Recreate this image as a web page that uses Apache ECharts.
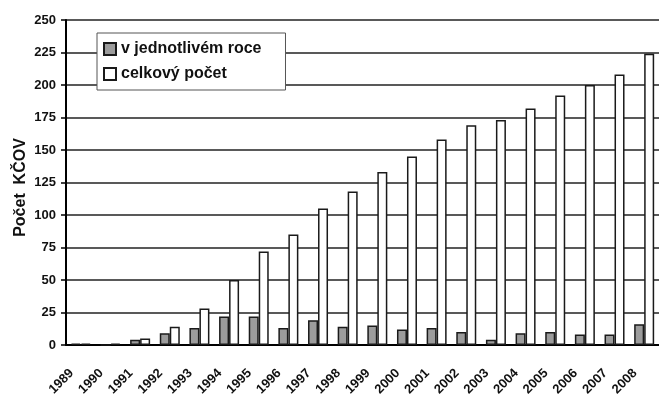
<!DOCTYPE html>
<html><head><meta charset="utf-8">
<script src="https://cdn.jsdelivr.net/npm/echarts@6/dist/echarts.min.js"></script>
<style>html,body{margin:0;padding:0;background:#fff}#c{width:659px;height:407px}</style>
</head><body><div id="c"></div>
<script>
const years = ['1989','1990','1991','1992','1993','1994','1995','1996','1997','1998','1999','2000','2001','2002','2003','2004','2005','2006','2007','2008'];
const perYear = [1,0,4,9,13,22,22,13,19,14,15,12,13,10,4,9,10,8,8,16];
const total = [1,1,5,14,28,50,72,85,105,118,133,145,158,169,173,182,192,200,208,224];
const seriesNames = ['v jednotlivém roce','celkový počet'];
const yAxisName = 'Počet  KČOV';

const chart = echarts.init(document.getElementById('c'), null, {renderer:'canvas'});
const font = 'Liberation Sans, Arial, sans-serif';
chart.setOption({
  animation:false,
  backgroundColor:'#fff',
  grid:{left:66, right:-5, top:20, bottom:62, containLabel:false},
  legend:{
    orient:'vertical', left:97, top:33, icon:'rect',
    backgroundColor:'#fff', borderColor:'#555', borderWidth:1,
    padding:[8,24,8,6], itemGap:9, itemWidth:12, itemHeight:12,
    textStyle:{fontFamily:font, fontWeight:'bold', fontSize:16, color:'#111'},
    data:seriesNames
  },
  xAxis:{
    type:'category', data:years,
    axisLine:{lineStyle:{color:'#000', width:2}},
    axisTick:{show:false},
    axisLabel:{rotate:45, margin:17, padding:[0,13,0,0], fontFamily:font, fontWeight:'bold', fontSize:13, color:'#111', interval:0}
  },
  yAxis:{
    type:'value', min:0, max:250, interval:25,
    name:yAxisName, nameLocation:'middle', nameGap:37, nameRotate:90, nameMoveOverlap:false,
    nameTextStyle:{fontFamily:font, fontWeight:'bold', fontSize:16, color:'#111', padding:[0,10,0,0]},
    axisLine:{show:true, lineStyle:{color:'#000', width:2}},
    axisTick:{show:true, length:5, lineStyle:{color:'#000', width:1.5}},
    axisLabel:{margin:10, fontFamily:font, fontWeight:'bold', fontSize:13, color:'#111'},
    splitLine:{lineStyle:{color:'#222', width:1.6}}
  },
  series:[
    {name:seriesNames[0], type:'bar', data:perYear, barWidth:10, barGap:'0%',
     itemStyle:{color:'#9c9c9c', borderColor:'#1a1a1a', borderWidth:1.5}},
    {name:seriesNames[1], type:'bar', data:total, barWidth:10, barGap:'0%',
     itemStyle:{color:'#ffffff', borderColor:'#1a1a1a', borderWidth:1.5}}
  ]
});
</script></body></html>
